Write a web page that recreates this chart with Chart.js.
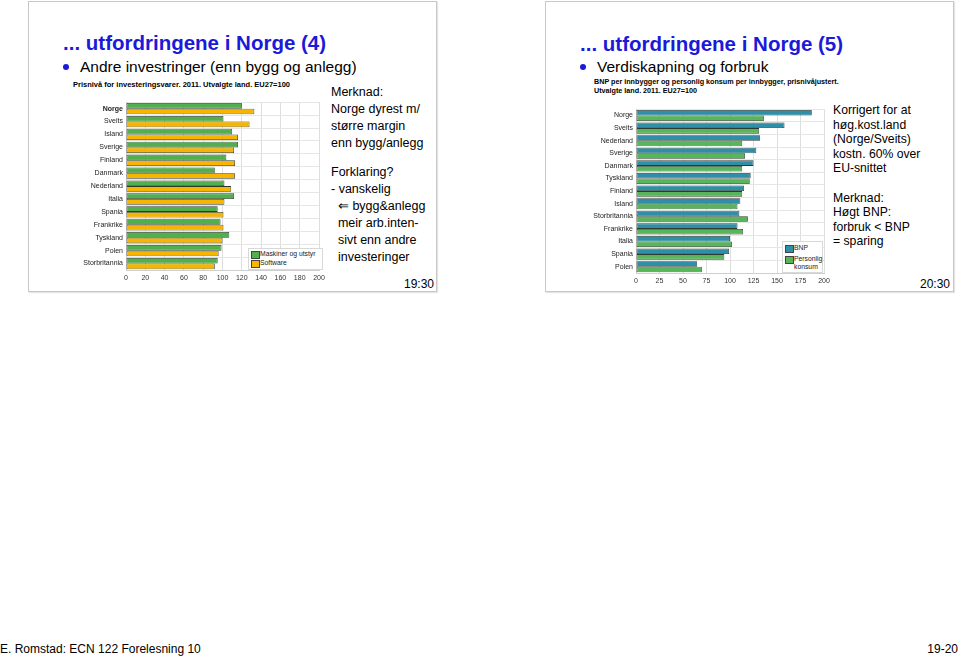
<!DOCTYPE html>
<html>
<head>
<meta charset="utf-8">
<script src="https://cdn.jsdelivr.net/npm/chart.js@4.4.1/dist/chart.umd.min.js"></script>
<style>
  body { margin: 0; width: 959px; height: 658px; background: #fff; position: relative; overflow: hidden;
         font-family: "Liberation Sans", Arial, sans-serif; color: #000; }
  .slide { position: absolute; top: 1px; width: 407px; height: 289px; border: 1px solid #c8c8c8;
           box-shadow: 1px 1px 1px #e4e4e4; }
  .abs { position: absolute; white-space: nowrap; }
  .title { font-size: 20.5px; font-weight: bold; color: #1a1ad8; }
  .bullet { font-size: 15.5px; }
  .dot { position: absolute; width: 6px; height: 6px; border-radius: 50%; background: #1a1ad8; }
  .sub { font-size: 7.5px; font-weight: bold; }
  .note { font-size: 12.5px; line-height: 17px; }
  .note2 { font-size: 12.2px; line-height: 14.6px; }
  .gap { display: block; height: 12px; }
  .time { font-size: 12px; }
  .legend { position: absolute; background: #fff; border: 1px solid #d8d8d8; font-size: 6.8px; color: #222; }
  .legend .item { position: relative; padding-left: 11px; line-height: 8.5px; }
  .legend .sw { position: absolute; left: 2px; top: 1px; width: 7px; height: 6px; border: 1px solid #444; }
  canvas { position: absolute; }
</style>
</head>
<body>
<div class="slide" style="left:28px"></div>
<div class="slide" style="left:545px"></div>

<div class="abs title" style="left:63px;top:31px">... utfordringene i Norge (4)</div>
<div class="dot" style="left:63px;top:64px"></div>
<div class="abs bullet" style="left:80px;top:58px">Andre investringer (enn bygg og anlegg)</div>
<div class="abs sub" style="left:73px;top:80px">Prisnivå for investeringsvarer. 2011. Utvalgte land. EU27=100</div>
<div class="abs note" style="left:331px;top:84px">Merknad:<br>Norge dyrest m/<br>større margin<br>enn bygg/anlegg<span class="gap"></span>Forklaring?<br>- vanskelig<br>&nbsp;&nbsp;⇐ bygg&amp;anlegg<br>&nbsp;&nbsp;meir arb.inten-<br>&nbsp;&nbsp;sivt enn andre<br>&nbsp;&nbsp;investeringer</div>
<div class="abs time" style="left:404px;top:277px">19:30</div>

<div class="abs title" style="left:580px;top:32px">... utfordringene i Norge (5)</div>
<div class="dot" style="left:580px;top:64px"></div>
<div class="abs bullet" style="left:597px;top:58px">Verdiskapning og forbruk</div>
<div class="abs sub" style="left:594px;top:77px;font-size:7.2px;line-height:9px">BNP per innbygger og personlig konsum per innbygger, prisnivåjustert.<br>Utvalgte land. 2011. EU27=100</div>
<div class="abs note2" style="left:833px;top:103px">Korrigert for at<br>høg.kost.land<br>(Norge/Sveits)<br>kostn. 60% over<br>EU-snittet<br><br>Merknad:<br>Høgt BNP:<br>forbruk &lt; BNP<br>= sparing</div>
<div class="abs time" style="left:920px;top:277px">20:30</div>

<div class="abs" style="left:0px;top:642px;font-size:12px">E. Romstad: ECN 122 Forelesning 10</div>
<div class="abs" style="right:1px;top:642px;font-size:12px">19-20</div>

<canvas id="c1" style="left:60px;top:95px" width="272" height="187"></canvas>
<canvas id="c2" style="left:580px;top:102px" width="256" height="183"></canvas>
<div class="legend" id="lg1" style="left:248px;top:248px;width:73px;height:19px;padding-top:1px"></div>
<div class="legend" id="lg2" style="left:782px;top:241px;width:39px;height:28px;padding-top:2px"></div>

<script>
// data, chart 1
const countries1 = ["Norge", "Sveits", "Island", "Sverige", "Finland", "Danmark", "Nederland",
  "Italia", "Spania", "Frankrike", "Tyskland", "Polen", "Storbritannia"];
const maskiner = [120, 101, 110, 116, 104, 92, 102, 112, 95, 98, 107, 99, 95];
const software = [133, 128, 116, 112, 113, 113, 109, 102, 101, 101, 100, 96, 92];
const ticks1 = [0, 20, 40, 60, 80, 100, 120, 140, 160, 180, 200];

// data, chart 2
const countries2 = ["Norge", "Sveits", "Nederland", "Sverige", "Danmark", "Tyskland", "Finland",
  "Island", "Storbritannia", "Frankrike", "Italia", "Spania", "Polen"];
const bnp = [187, 158, 132, 128, 125, 122, 115, 111, 110, 108, 100, 99, 65];
const konsum = [136, 131, 113, 116, 113, 121, 113, 108, 119, 114, 102, 94, 70];
const ticks2 = [0, 25, 50, 75, 100, 125, 150, 175, 200];

const green = "#52b04c", orange = "#f7b500", teal = "#2f8ea8", green2 = "#57b55a";

function makeChart(id, labels, sets, tickVals, yWidth, padRight, boldFirst) {
  const ctx = document.getElementById(id).getContext("2d");
  return new Chart(ctx, {
    type: "bar",
    data: {
      labels: labels,
      datasets: sets.map((s) => ({
        label: s.label,
        data: s.data,
        backgroundColor: s.color,
        borderColor: "#2f3a2f",
        borderWidth: 0.8,
        borderSkipped: false,
        categoryPercentage: 0.88,
        barPercentage: 1.0,
      })),
    },
    options: {
      indexAxis: "y",
      responsive: false,
      animation: false,
      layout: { padding: { top: 2, right: padRight, left: 0, bottom: 0 } },
      plugins: { legend: { display: false }, tooltip: { enabled: false } },
      scales: {
        x: {
          min: 0, max: 200,
          afterBuildTicks: (axis) => { axis.ticks = tickVals.map((v) => ({ value: v })); },
          afterFit: (axis) => { axis.height = 12; },
          grid: { color: "#dedede", lineWidth: 1, drawTicks: false },
          border: { color: "#cfcfcf" },
          ticks: { color: "#333", padding: 4, font: { size: 7, family: "Liberation Sans" } },
        },
        y: {
          afterFit: (axis) => { axis.width = yWidth; },
          grid: { color: "#e6e6e6", offset: true, drawTicks: false },
          border: { color: "#cfcfcf" },
          ticks: {
            color: "#222", padding: 3,
            font: (c) => ({ size: 7, family: "Liberation Sans",
              weight: boldFirst && c.index === 0 ? "bold" : "normal" }),
          },
        },
      },
    },
  });
}

const chart1 = makeChart("c1", countries1, [
  { label: "Maskiner og utstyr", data: maskiner, color: green },
  { label: "Software", data: software, color: orange },
], ticks1, 66, 13, true);

const chart2 = makeChart("c2", countries2, [
  { label: "BNP", data: bnp, color: teal },
  { label: "Personlig konsum", data: konsum, color: green2 },
], ticks2, 56, 12, false);

function buildLegend(el, chart, wrap) {
  chart.data.datasets.forEach((ds) => {
    const d = document.createElement("div");
    d.className = "item";
    d.innerHTML = '<span class="sw" style="background:' + ds.backgroundColor + '"></span>' +
      (wrap ? ds.label.replace(" ", "<br>") : ds.label);
    if (wrap) d.style.marginBottom = "2px";
    el.appendChild(d);
  });
}
buildLegend(document.getElementById("lg1"), chart1, false);
buildLegend(document.getElementById("lg2"), chart2, true);
</script>
</body>
</html>
